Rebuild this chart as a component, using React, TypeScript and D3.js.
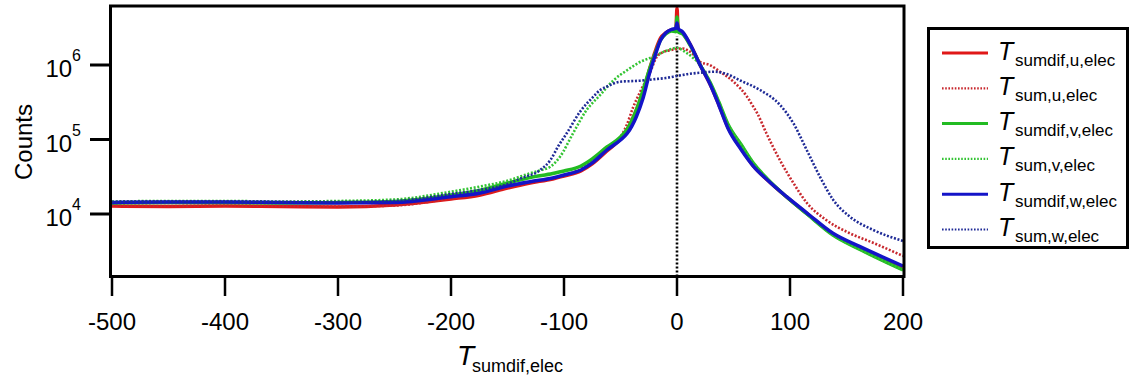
import React from 'react';
import * as d3 from 'd3';

// ---------- data ----------
const X_TICKS = [-500, -400, -300, -200, -100, 0, 100, 200];
const Y_TICKS = [1e4, 1e5, 1e6];
const Y_TICK_BASE = '10';
const Y_TICK_EXP = ['4', '5', '6'];

// T_sumdif,u,elec (red solid)
const sumdifU_x = [-500, -450, -400, -350, -300, -250, -200, -175, -150, -130, -110, -100, -85, -75, -62, -50, -44, -36, -30, -24, -19.5, -14.5, -10, -5, -1, 0, 1, 5, 12, 20, 30, 37, 45, 57, 67.5, 80, 97, 115, 138, 162, 200];
const sumdifU_y = [12810, 12610, 12810, 12610, 12415, 13210, 15900, 17900, 22340, 26070, 29500, 32370, 37780, 47000, 70000, 101600, 134100, 248900, 434100, 911200, 1494000, 2304000, 2689000, 2950000, 2950000, 5824000, 2950000, 2689000, 1856000, 1031000, 522500, 294900, 147200, 74570, 44080, 28600, 16910, 10160, 5389, 3550, 1944];

// T_sum,u,elec (red dotted)
const sumU_x = [-500, -450, -400, -350, -300, -250, -200, -175, -150, -130, -110, -100, -85, -70, -60, -50, -44.5, -38.7, -32.7, -24, -18, -12, -5, 0, 5, 9, 15, 20, 29, 38, 50, 62, 67.5, 71, 79, 91, 103, 115, 132, 153, 174, 200];
const sumU_y = [13000, 12810, 13000, 12810, 12610, 13000, 16150, 18200, 22680, 26480, 29960, 32870, 40180, 56440, 76900, 108100, 156500, 273100, 434100, 781000, 1281000, 1494000, 1590000, 1640000, 1666000, 1590000, 1362000, 1108000, 1000000, 813000, 596700, 375400, 275700, 224700, 122300, 53070, 26070, 14050, 8309, 5508, 4080, 2731];

// T_sumdif,v,elec (green solid)
const sumdifV_x = [-500, -450, -400, -350, -300, -250, -200, -175, -150, -130, -110, -100, -85, -75, -62, -50, -44, -36, -30, -24, -19.5, -14.5, -10, -5, -1, 0, 1, 5, 12, 20, 30, 37, 45, 57, 67.5, 80, 97, 115, 138, 162, 200];
const sumdifV_y = [14050, 14270, 14270, 14050, 14270, 14720, 17990, 20680, 26070, 30900, 34960, 37780, 44080, 55000, 79300, 108100, 138300, 248900, 461800, 911200, 1405000, 2166000, 2607000, 2860000, 2799000, 4409000, 2799000, 2607000, 1799000, 1031000, 555900, 318700, 161500, 84400, 48380, 29500, 16910, 10000, 5224, 3338, 1771];

// T_sum,v,elec (green dotted)
const sumV_x = [-500, -450, -400, -350, -300, -250, -200, -175, -150, -130, -120, -112, -103.5, -92, -80, -68, -56.4, -44.5, -32.7, -21, -10, 0, 8.6, 14.4, 20, 30, 37, 45, 57, 67.5, 80, 97, 115, 138, 162, 200];
const sumV_y = [14720, 14950, 14950, 14720, 14950, 15650, 19930, 23250, 27990, 35180, 38960, 43140, 58760, 121100, 248900, 395700, 619400, 843900, 1097000, 1293000, 1541000, 1692000, 1449000, 1242000, 1031000, 555900, 318700, 161500, 84400, 48380, 29500, 16910, 10000, 5224, 3338, 1771];

// T_sumdif,w,elec (blue solid)
const sumdifW_x = [-500, -450, -400, -350, -300, -250, -200, -175, -150, -130, -110, -100, -85, -75, -62, -50, -44, -36, -30, -24, -19.5, -14.5, -10, -5, -1, 0, 1, 5, 12, 20, 30, 37, 45, 57, 67.5, 80, 97, 115, 138, 162, 200];
const sumdifW_y = [14270, 14490, 14490, 14270, 14050, 14270, 17070, 18960, 23760, 27140, 30430, 33380, 38960, 48500, 72280, 98470, 121100, 202300, 360600, 805400, 1321000, 2166000, 2689000, 2996000, 3108000, 3663000, 3108000, 2773000, 1856000, 1031000, 522500, 290400, 142700, 72280, 44080, 28600, 17070, 10310, 5508, 3640, 2004];

// T_sum,w,elec (blue dotted)
const sumW_x = [-500, -450, -400, -350, -300, -250, -200, -175, -150, -138, -121, -112, -105, -97.6, -85.8, -74, -68, -62.3, -50.4, -32.7, -21, -10, 0, 10, 20.8, 33, 44, 56, 73.5, 91.2, 103, 114.8, 126.5, 138.3, 153, 173.7, 200];
const sumW_y = [14490, 14720, 14720, 14490, 14490, 14950, 18560, 21000, 25270, 30150, 38960, 53070, 81800, 121100, 236100, 375400, 461800, 511300, 596700, 615500, 642700, 669000, 711800, 757200, 788200, 813000, 757200, 619400, 461800, 290400, 165000, 72280, 31670, 15420, 9200, 6100, 4341];

const SERIES = [
  { sub: 'sumdif,u,elec', xs: sumdifU_x, ys: sumdifU_y, color: '#e01818', dotted: false },
  { sub: 'sum,u,elec', xs: sumU_x, ys: sumU_y, color: '#c8282e', dotted: true },
  { sub: 'sumdif,v,elec', xs: sumdifV_x, ys: sumdifV_y, color: '#22bb22', dotted: false },
  { sub: 'sum,v,elec', xs: sumV_x, ys: sumV_y, color: '#33c433', dotted: true },
  { sub: 'sumdif,w,elec', xs: sumdifW_x, ys: sumdifW_y, color: '#1414c8', dotted: false },
  { sub: 'sum,w,elec', xs: sumW_x, ys: sumW_y, color: '#1e2a96', dotted: true },
];

const FONT = '"Liberation Sans", Arial, Helvetica, sans-serif';

export default function App() {
  const W = 1134, H = 378;
  const left = 110.5, right = 904, top = 6, bottom = 276.5;
  const x = d3.scaleLinear().domain([-500, 200]).range([112, 903]);
  const y = d3.scaleLog().domain([Math.pow(10, 4 - 62 / 74.5), Math.pow(10, 4 + 208 / 74.5)]).range([276, 6]);

  const line = d3.line<[number, number]>().x(d => x(d[0])).y(d => y(d[1])).curve(d3.curveMonotoneX);

  const legendX = 928.5, legendY = 28.5, legendW = 199, legendH = 219;
  const rowY0 = 53, rowStep = 35.3;

  return (
    <svg width={W} height={H} viewBox={`0 0 ${W} ${H}`} style={{ position: 'fixed', left: 0, top: 0, background: '#fff' }} fontFamily={FONT}>
      <defs>
        <clipPath id="plotclip">
          <rect x={left} y={top} width={right - left} height={bottom - top} />
        </clipPath>
      </defs>
      <rect x={0} y={0} width={W} height={H} fill="#fff" />

      {/* zero marker line */}
      <line x1={x(0)} x2={x(0)} y1={bottom} y2={y(3108000) + 8} stroke="#000" strokeWidth={2.6} strokeDasharray="2 2" />

      {/* series */}
      <g clipPath="url(#plotclip)">
        {SERIES.map((s, i) => {
          const pts = s.xs.map((v, j) => [v, s.ys[j]] as [number, number]);
          return (
            <path key={i} d={line(pts) || ''} fill="none" stroke={s.color}
              strokeWidth={s.dotted ? 2.6 : 3.5}
              strokeDasharray={s.dotted ? '2 1.7' : undefined}
              strokeLinejoin="round" />
          );
        })}
      </g>

      {/* frame */}
      <rect x={left} y={top} width={right - left} height={bottom - top} fill="none" stroke="#000" strokeWidth={3} />

      {/* x axis ticks */}
      {X_TICKS.map(t => (
        <g key={t}>
          <line x1={x(t)} x2={x(t)} y1={bottom + 1} y2={296} stroke="#000" strokeWidth={2.5} />
          <text x={x(t)} y={330} textAnchor="middle" fontSize={24} fill="#000">{t}</text>
        </g>
      ))}

      {/* y axis ticks */}
      {Y_TICKS.map((t, i) => (
        <g key={t}>
          <line x1={90} x2={left} y1={y(t)} y2={y(t)} stroke="#000" strokeWidth={3} />
          <text x={81} y={y(t) + 12} textAnchor="end" fontSize={24} fill="#000">
            {Y_TICK_BASE}
            <tspan fontSize={16} dy={-16}>{Y_TICK_EXP[i]}</tspan>
          </text>
        </g>
      ))}

      {/* axis titles */}
      <text transform="translate(32,142) rotate(-90)" textAnchor="middle" fontSize={24} fill="#000">Counts</text>
      <text x={457} y={365} fontSize={28} fill="#000">
        <tspan fontStyle="italic">T</tspan>
        <tspan x={472} y={372} fontSize={18}>sumdif,elec</tspan>
      </text>

      {/* legend */}
      <rect x={legendX} y={legendY} width={legendW} height={legendH} fill="#fff" stroke="#000" strokeWidth={3} />
      {SERIES.map((s, i) => {
        const ry = rowY0 + i * rowStep;
        return (
          <g key={i}>
            <line x1={942} x2={988} y1={ry} y2={ry} stroke={s.color}
              strokeWidth={s.dotted ? 2.2 : 3}
              strokeDasharray={s.dotted ? '1.6 1.6' : undefined} />
            <text x={998} y={ry + 6.5} fontSize={25} fill="#000">
              <tspan fontStyle="italic">T</tspan>
              <tspan x={1015} y={ry + 12.5} fontSize={17}>{s.sub}</tspan>
            </text>
          </g>
        );
      })}
    </svg>
  );
}
